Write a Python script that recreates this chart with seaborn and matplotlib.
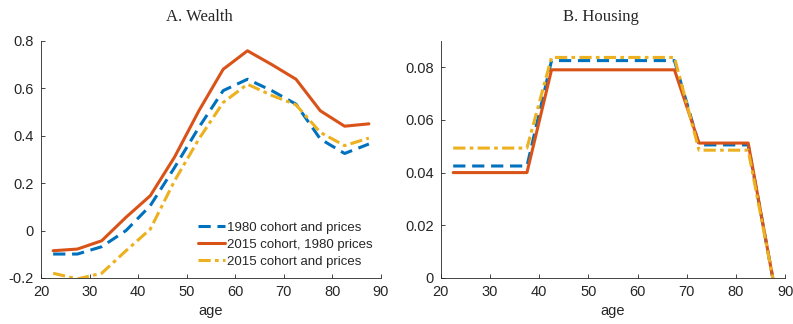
import numpy as np
import pandas as pd
import matplotlib
matplotlib.use('Agg')
import matplotlib.pyplot as plt
import seaborn as sns

# ages (midpoints of 5-year bins)
age = [22.5, 27.5, 32.5, 37.5, 42.5, 47.5, 52.5, 57.5, 62.5, 67.5, 72.5, 77.5, 82.5, 87.5]

# panel A: wealth
wealth_1980 = [-0.099, -0.099, -0.068, 0.0, 0.105, 0.266, 0.435, 0.59, 0.638, 0.59, 0.533, 0.386, 0.325, 0.365]
wealth_2015_1980p = [-0.085, -0.078, -0.043, 0.056, 0.147, 0.31, 0.505, 0.68, 0.758, 0.70, 0.638, 0.505, 0.44, 0.45]
wealth_2015 = [-0.18, -0.204, -0.18, -0.085, 0.006, 0.21, 0.386, 0.54, 0.617, 0.57, 0.53, 0.414, 0.358, 0.39]

# panel B: housing
housing_1980 = [0.0425, 0.0425, 0.0425, 0.0425, 0.0825, 0.0825, 0.0825, 0.0825, 0.0825, 0.0825, 0.0505, 0.0505, 0.0505, 0.0]
housing_2015_1980p = [0.040, 0.040, 0.040, 0.040, 0.079, 0.079, 0.079, 0.079, 0.079, 0.079, 0.0512, 0.0512, 0.0512, 0.0]
housing_2015 = [0.0493, 0.0493, 0.0493, 0.0493, 0.0837, 0.0837, 0.0837, 0.0837, 0.0837, 0.0837, 0.0485, 0.0485, 0.0485, 0.0]

labels = ['1980 cohort and prices', '2015 cohort, 1980 prices', '2015 cohort and prices']
colors = ['#0072BD', '#D95319', '#EDB120']
dashes = [(4, 2.2), '', (4, 1.4, 1.2, 1.4)]

sns.set_theme(style='white')
plt.rcParams['font.family'] = ['Liberation Sans', 'DejaVu Sans']

def make_df(series):
    rows = []
    for lab, vals in zip(labels, series):
        for a, v in zip(age, vals):
            rows.append({'age': a, 'value': v, 'series': lab})
    return pd.DataFrame(rows)

fig = plt.figure(figsize=(7.93, 3.24), dpi=100)
ax1 = fig.add_axes([0.0517, 0.142, 0.4288, 0.732])
ax2 = fig.add_axes([0.556, 0.142, 0.434, 0.732])

panels = [
    (ax1, [wealth_1980, wealth_2015_1980p, wealth_2015], 'A. Wealth', (-0.2, 0.8), np.arange(-0.2, 0.81, 0.2)),
    (ax2, [housing_1980, housing_2015_1980p, housing_2015], 'B. Housing', (0, 0.09), np.arange(0, 0.081, 0.02)),
]

for ax, series, title, ylim, yticks in panels:
    df = make_df(series)
    sns.lineplot(data=df, x='age', y='value', hue='series', style='series',
                 palette=dict(zip(labels, colors)), dashes=dict(zip(labels, dashes)),
                 linewidth=2.2, ax=ax, legend=(ax is ax1))
    ax.set_xlim(20, 90)
    ax.set_ylim(*ylim)
    ax.set_xticks(range(20, 91, 10))
    ax.set_yticks(yticks)
    if ax is ax1:
        ax.set_yticklabels(['-0.2', '0', '0.2', '0.4', '0.6', '0.8'])
    else:
        ax.set_yticklabels(['0', '0.02', '0.04', '0.06', '0.08'])
    ax.set_xlabel('age', fontsize=10.5, color='#262626', labelpad=4)
    ax.set_ylabel('')
    ax.set_title(title, fontsize=12, family=['Liberation Serif', 'DejaVu Serif'],
                 x=0.466, pad=14)
    for s in ['top', 'right']:
        ax.spines[s].set_visible(False)
    for s in ['left', 'bottom']:
        ax.spines[s].set_color('#262626')
        ax.spines[s].set_linewidth(0.6)
    ax.tick_params(direction='in', length=3, width=0.6, colors='#262626',
                   labelsize=10.5, left=True, bottom=True, pad=5)

leg = ax1.legend(loc='lower right', bbox_to_anchor=(1.0, 0.01), frameon=False,
                 fontsize=9.5, handlelength=2.0, handletextpad=0.2, labelspacing=0.35,
                 borderaxespad=0.2)

fig.savefig('out.png', dpi=100)
